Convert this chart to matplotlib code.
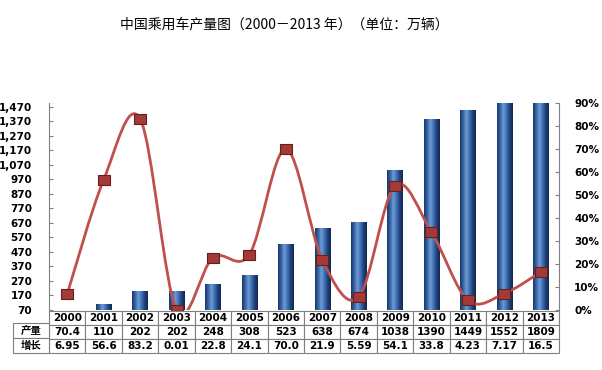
import numpy as np
import matplotlib
matplotlib.use("Agg")
import matplotlib.pyplot as plt
from matplotlib.path import Path
from matplotlib.patches import PathPatch
from matplotlib.ticker import FuncFormatter
from matplotlib.colors import LinearSegmentedColormap

plt.rcParams["font.family"] = ["DejaVu Sans", "Noto Sans CJK SC"]

# ---------------------------------------------------------------------------
# Data: China passenger car production (10k units) and growth rate (%)
# ---------------------------------------------------------------------------
years = ["2000", "2001", "2002", "2003", "2004", "2005", "2006",
         "2007", "2008", "2009", "2010", "2011", "2012", "2013"]
production = [70.4, 110, 202, 202, 248, 308, 523, 638, 674, 1038, 1390, 1449, 1552, 1809]
growth = [6.95, 56.6, 83.2, 0.01, 22.8, 24.1, 70.0, 21.9, 5.59, 54.1, 33.8, 4.23, 7.17, 16.5]
prod_text = ["70.4", "110", "202", "202", "248", "308", "523",
             "638", "674", "1038", "1390", "1449", "1552", "1809"]
growth_text = ["6.95", "56.6", "83.2", "0.01", "22.8", "24.1", "70.0",
               "21.9", "5.59", "54.1", "33.8", "4.23", "7.17", "16.5"]
row_names = ["产量", "增长"]
left_ticks = list(range(70, 1471, 100))
right_ticks = list(range(0, 91, 10))

W, H = 602, 370
fig = plt.figure(figsize=(W / 100, H / 100), dpi=100)
ax_l, ax_r, ax_t, ax_b = 49, 559, 103, 310
ax = fig.add_axes([ax_l / W, 1 - ax_b / H, (ax_r - ax_l) / W, (ax_b - ax_t) / H])
ax2 = ax.twinx()

x = np.arange(len(years))
y_lo, y_hi = 70, 1497

# ---------------------------------------------------------------------------
# Bars with a cylinder-like horizontal gradient
# ---------------------------------------------------------------------------
bars = ax.bar(x, np.array(production) - y_lo, bottom=y_lo, width=0.42,
              color="#3a66a4", zorder=2)
cyl = LinearSegmentedColormap.from_list(
    "cyl", ["#1a3766", "#3564a6", "#6f9ad4", "#3f71b6", "#1f4178", "#12284f"])
grad = np.linspace(0, 1, 64).reshape(1, -1)
for b in bars:
    x0, w = b.get_x(), b.get_width()
    top = min(b.get_y() + b.get_height(), y_hi)
    im = ax.imshow(grad, extent=[x0, x0 + w, y_lo, top], aspect="auto",
                   cmap=cyl, zorder=3, interpolation="bilinear")
    im.set_clip_path(b)

ax.set_xlim(-0.5, len(years) - 0.5)
ax.set_ylim(y_lo, y_hi)
ax.set_yticks(left_ticks)
ax.yaxis.set_major_formatter(FuncFormatter(lambda v, p: f"{int(v):,}"))
ax.set_xticks([])

# ---------------------------------------------------------------------------
# Smoothed growth line (Excel-style Bezier smoothing) on the right axis
# ---------------------------------------------------------------------------
pts = np.column_stack([x, growth])
verts = [tuple(pts[0])]
codes = [Path.MOVETO]
n = len(pts)
for i in range(n - 1):
    p0 = pts[i - 1] if i > 0 else pts[i]
    p1, p2 = pts[i], pts[i + 1]
    p3 = pts[i + 2] if i + 2 < n else pts[i + 1]
    c1 = p1 + (p2 - p0) / 6
    c2 = p2 - (p3 - p1) / 6
    verts += [tuple(c1), tuple(c2), tuple(p2)]
    codes += [Path.CURVE4] * 3
ax2.add_patch(PathPatch(Path(verts, codes), facecolor="none",
                        edgecolor="#c0504d", lw=2.0, zorder=4))
rect_marker = [(-1, -0.75), (1, -0.75), (1, 0.75), (-1, 0.75), (-1, -0.75)]
ax2.plot(x, growth, ls="none", marker=rect_marker, ms=9, mfc="#a33a37",
         mec="#6b1f1d", mew=0.8, zorder=5)
ax2.set_ylim(0, 90)
ax2.set_yticks(right_ticks)
ax2.yaxis.set_major_formatter(FuncFormatter(lambda v, p: f"{int(v)}%"))

for a in (ax, ax2):
    for s in ("top", "bottom"):
        a.spines[s].set_visible(False)
    a.tick_params(axis="y", labelsize=7.5, length=3, direction="in",
                  color="#808080")
    for lab in a.get_yticklabels():
        lab.set_fontweight("bold")
ax.spines["left"].set_color("#808080")
ax.spines["right"].set_visible(False)
ax2.spines["left"].set_visible(False)
ax2.spines["right"].set_color("#808080")
ax.tick_params(axis="y", pad=12)
ax2.tick_params(axis="y", pad=11)

# ---------------------------------------------------------------------------
# Data table under the chart
# ---------------------------------------------------------------------------
ax_h = ax_b - ax_t
row_px = [12, 15, 15]
tb_h = sum(row_px)
tab = ax.table(cellText=[years, prod_text, growth_text], cellLoc="center",
               bbox=[0, -(tb_h + 1) / ax_h, 1, tb_h / ax_h])
for (r, c), cell in tab.get_celld().items():
    cell.set_edgecolor("#7f7f7f")
    cell.set_linewidth(0.8)
    cell.get_text().set_fontsize(7.5)
    cell.get_text().set_fontweight("bold")
tab.auto_set_font_size(False)

lab_w = (ax_l - 13) / (ax_r - ax_l)
tab2 = ax.table(cellText=[[row_names[0]], [row_names[1]]], cellLoc="center",
                bbox=[-lab_w, -(tb_h + 1) / ax_h, lab_w, (tb_h - row_px[0]) / ax_h])
for (r, c), cell in tab2.get_celld().items():
    cell.set_edgecolor("#7f7f7f")
    cell.set_linewidth(0.8)
    cell.get_text().set_fontsize(7.5)
    cell.get_text().set_fontweight("bold")
    cell.get_text().set_family(["Noto Sans CJK SC", "DejaVu Sans"])
tab2.auto_set_font_size(False)

fig.text(284 / W, 1 - 24 / H, "中国乘用车产量图（2000－2013 年）（单位：万辆）",
         ha="center", va="center", fontsize=10,
         family=["Noto Sans CJK SC", "DejaVu Sans"])

fig.savefig("out.png", dpi=100)
